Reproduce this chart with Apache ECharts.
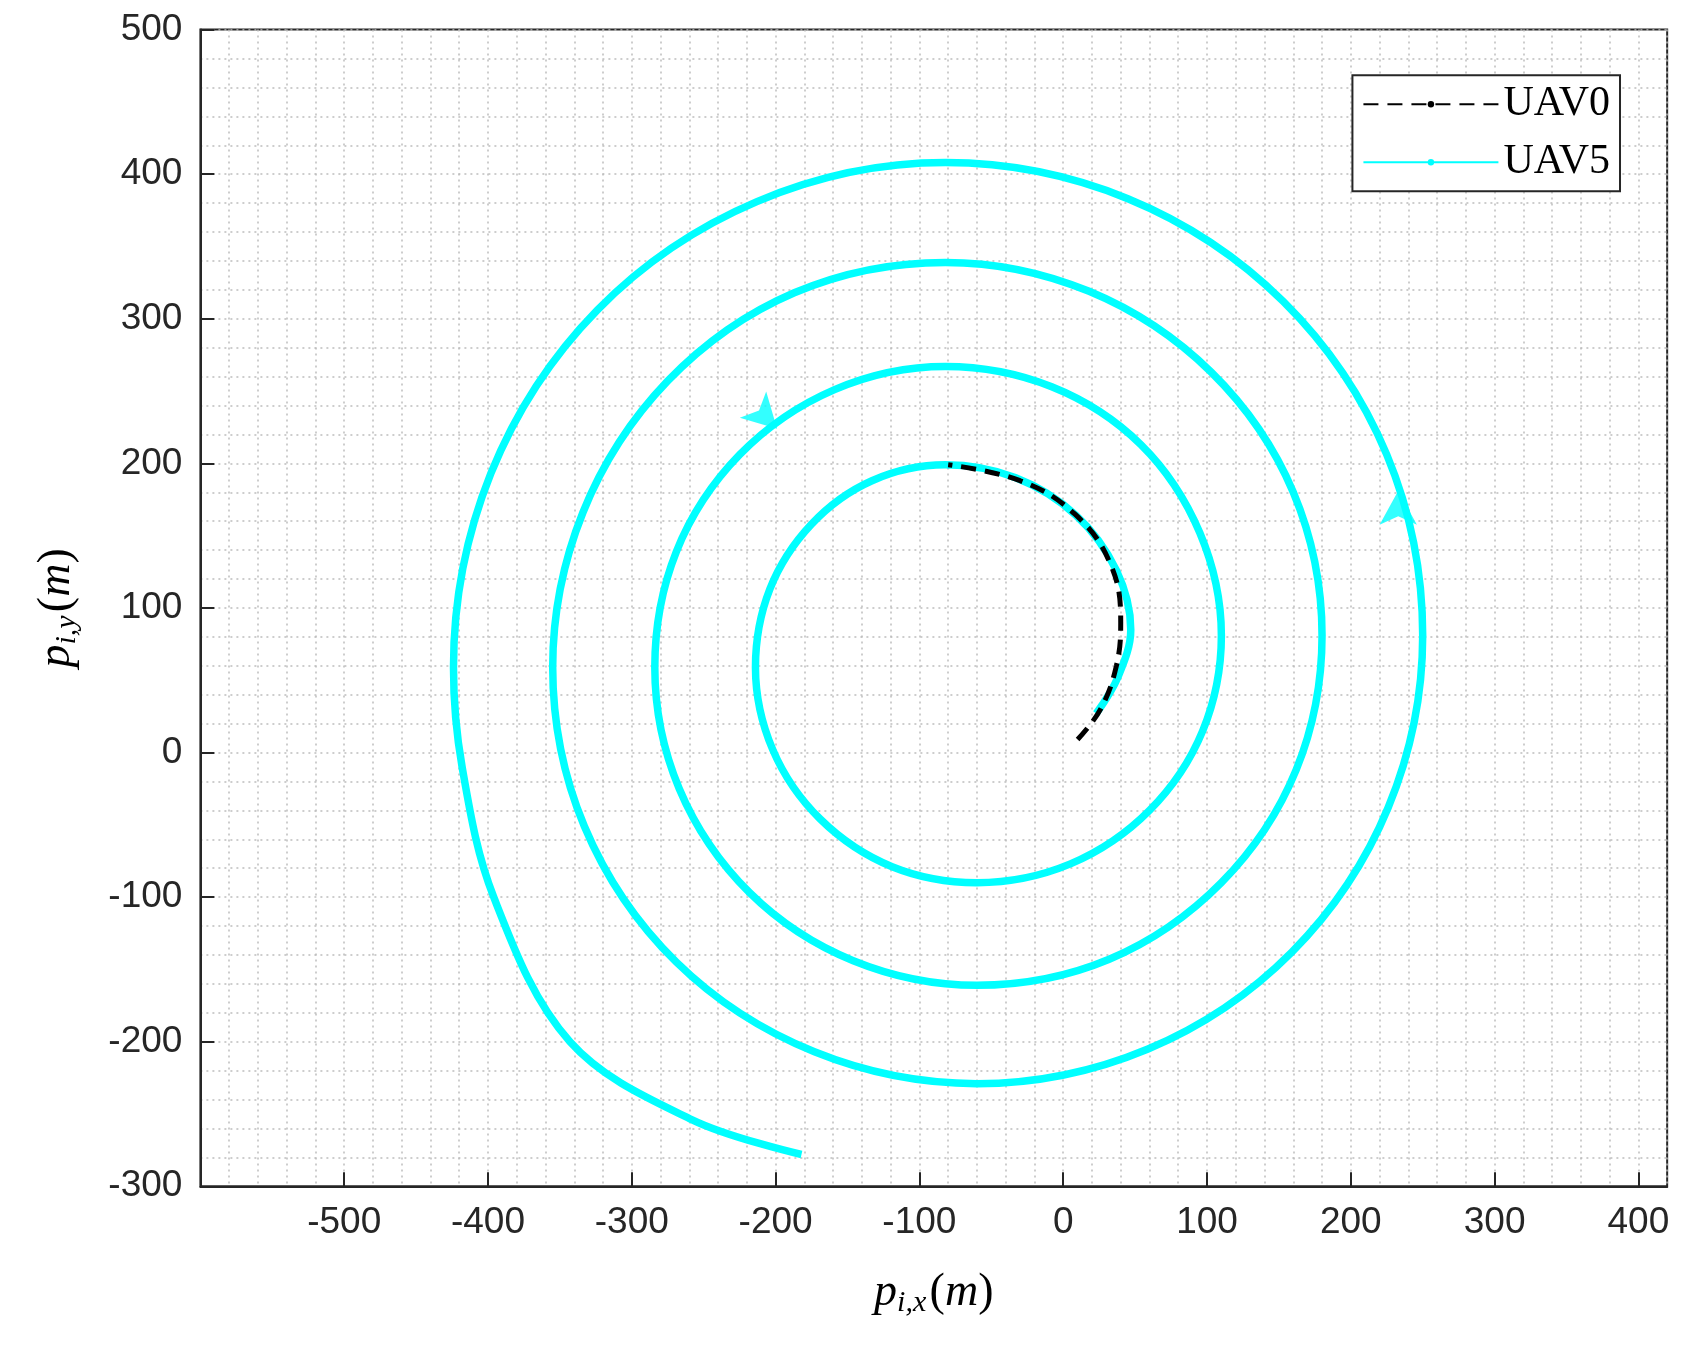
<!DOCTYPE html>
<html><head><meta charset="utf-8">
<script src="https://cdn.jsdelivr.net/npm/echarts@6/dist/echarts.min.js"></script>
<style>html,body{margin:0;padding:0;background:#fff}#c{width:1684px;height:1345px}</style>
</head><body><div id="c"></div>
<script>
const uav5 = [[23,27],[38,52],[47,85],[37,126],[9,164],[-33,190],[-82,199],
 [-133,188],[-175,158],[-204,113],[-214,59],[-202,2],[-169,-46],[-119,-79],[-60,-90],
 [5,-77],[60,-40],[97,15],[110,81],[95,152],[54,213],[-8,253],[-82,267],
 [-159,251],[-225,206],[-269,139],[-284,59],[-267,-25],[-218,-97],[-146,-144],[-60,-161],
 [32,-143],[110,-90],[162,-12],[180,81],[160,180],[103,263],[18,319],[-82,339],
 [-187,318],[-275,257],[-334,166],[-355,59],[-333,-51],[-269,-145],[-173,-207],[-60,-229],
 [59,-205],[159,-138],[226,-38],[250,81],[225,206],[153,312],[45,383],[-82,408],
 [-213,381],[-324,306],[-398,193],[-424,59],[-418,-10],[-396,-100],[-343,-200],[-258,-254],[-182,-278]];
const uav0 = [[10,9],[26,30],[37,60],[40,90],[33,130],[8,165],[-30,188],[-80,199]];
const arrows = [[-199,224,-135],[233,181,0]];
const xTicks = {min:-600,max:420,interval:100};
const yTicks = {min:-300,max:500,interval:100};
const chart = echarts.init(document.getElementById('c'));
const gridLine = {show:true,lineStyle:{color:'#bdbdbd',type:[2,4],width:1.5}};
const axisCommon = {
  axisLine:{show:true,onZero:false,lineStyle:{color:'#262626',width:2}},
  axisTick:{inside:true,length:14,lineStyle:{color:'#262626',width:2}},
  axisLabel:{color:'#262626',fontSize:37,fontFamily:'Liberation Sans, Arial',margin:18},
  splitLine:gridLine, minorTick:{show:false,splitNumber:5},
  minorSplitLine:gridLine
};
const nameRich = {i:{fontFamily:'Liberation Serif',fontStyle:'italic',fontSize:46,color:'#000'},
  s:{fontFamily:'Liberation Serif',fontStyle:'italic',fontSize:30,color:'#000',verticalAlign:'bottom',padding:[20,0,0,0]},
  n:{fontFamily:'Liberation Serif',fontSize:46,color:'#000'}};
chart.setOption({
  animation:false,
  grid:{left:'11.9%',right:'1%',top:'2.2%',bottom:'11.8%',show:true,borderColor:'#262626',borderWidth:2},
  legend:{right:'3.8%',top:'5.6%',orient:'vertical',backgroundColor:'#fff',borderColor:'#262626',borderWidth:2,
    padding:[8,10,8,10],itemWidth:135,itemHeight:8,itemGap:16,
    textStyle:{fontFamily:'Liberation Serif, Times New Roman',fontSize:42,color:'#000'},
    data:['UAV0','UAV5']},
  xAxis:Object.assign({type:'value',min:xTicks.min,max:xTicks.max,interval:xTicks.interval,
    name:'{i|p}{s|i,x} {n|(}{i|m}{n|)}',nameLocation:'middle',nameGap:82,
    nameTextStyle:{rich:nameRich}},axisCommon,
    {axisLabel:Object.assign({},axisCommon.axisLabel,{formatter:v=>v===-600?'':v})}),
  yAxis:Object.assign({type:'value',min:yTicks.min,max:yTicks.max,interval:yTicks.interval,
    name:'{i|p}{s|i,y} {n|(}{i|m}{n|)}',nameLocation:'middle',nameGap:118,nameRotate:90,
    nameTextStyle:{rich:nameRich}},axisCommon),
  series:[
    {name:'UAV5',type:'line',data:uav5,smooth:0.35,symbol:'none',z:2,
      lineStyle:{color:'#00ffff',width:7.5},itemStyle:{color:'#00ffff'}},
    {name:'UAV0',type:'line',data:uav0,smooth:0.4,symbol:'none',z:3,
      lineStyle:{color:'#000',width:5,type:[15,9]},itemStyle:{color:'#000'}},
    {type:'scatter',data:arrows.map(a=>({value:[a[0],a[1]],symbolRotate:a[2]})),symbol:'arrow',
      symbolSize:[28,34],itemStyle:{color:'#00ffff'},z:4,silent:true}
  ]
});
</script></body></html>
